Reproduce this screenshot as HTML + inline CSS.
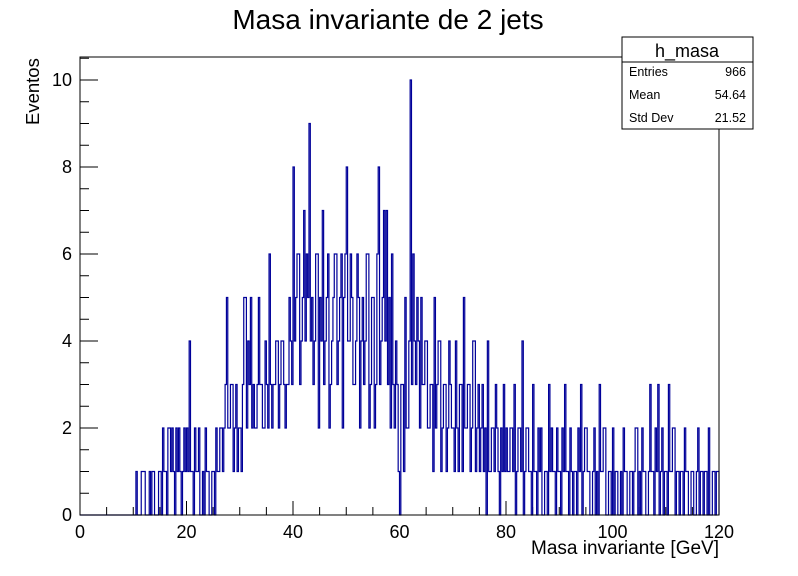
<!DOCTYPE html>
<html><head><meta charset="utf-8"><style>
body{margin:0;background:#fff}
svg text{font-family:"Liberation Sans",sans-serif}
</style></head><body>
<svg id="c" width="798" height="571" xmlns="http://www.w3.org/2000/svg">
<rect width="798" height="571" fill="#fff"/>
<text x="388" y="29" font-size="28" text-anchor="middle">Masa invariante de 2 jets</text>
<g id="axes"></g>
<path id="hist" fill="none" stroke="#000099" stroke-width="1.2"/>
<rect x="80" y="57" width="639" height="458" fill="none" stroke="#000"/>
<text x="719" y="554" font-size="19" text-anchor="end">Masa invariante [GeV]</text>
<text transform="translate(39,125) rotate(-90)" font-size="18.5">Eventos</text>
<g>
<rect x="622" y="37" width="131" height="92" fill="#fff" stroke="#000"/>
<line x1="622" y1="62" x2="753" y2="62" stroke="#000"/>
<text x="687" y="57" font-size="18" text-anchor="middle">h_masa</text>
<text x="629" y="76" font-size="12.5">Entries</text><text x="746" y="76" font-size="12.5" text-anchor="end">966</text>
<text x="629" y="99" font-size="12.5">Mean</text><text x="746" y="99" font-size="12.5" text-anchor="end">54.64</text>
<text x="629" y="122" font-size="12.5">Std Dev</text><text x="746" y="122" font-size="12.5" text-anchor="end">21.52</text>
</g>
</svg>
<script>
const binLow = 0, binHigh = 120;
const counts = [
0,0,0,0,0,0,0,0,0,0,0,0,0,0,0,0,0,0,0,0,
0,0,0,0,0,0,0,0,0,0,0,0,0,0,0,0,0,0,0,0,
0,0,1,0,0,0,1,1,1,0,0,0,1,0,1,1,0,0,0,1,
1,0,2,1,1,0,2,2,1,2,1,0,2,1,2,1,0,1,2,1,
2,1,4,1,1,0,2,1,1,2,0,0,1,0,2,1,1,0,0,1,
1,0,2,1,1,2,2,1,2,3,5,2,2,3,3,1,2,3,1,2,
2,1,3,5,5,2,4,3,5,2,3,2,2,3,5,3,3,2,2,4,
3,2,6,3,2,3,3,4,4,2,3,4,4,3,2,3,3,5,4,3,
8,4,5,6,6,3,4,5,7,4,6,5,9,4,5,3,4,6,6,2,
5,4,7,3,4,5,6,2,3,4,5,6,6,3,4,5,6,2,5,6,
8,4,4,6,5,3,3,4,6,5,2,4,5,3,4,6,6,2,3,5,
5,2,3,6,8,3,4,5,7,4,7,3,5,2,6,3,2,4,3,1,
0,3,3,1,5,2,2,4,10,3,6,4,3,5,4,2,5,3,3,4,
4,2,2,3,3,1,5,2,3,4,4,1,2,3,3,1,2,4,3,2,
2,1,4,2,1,3,3,1,5,2,2,3,3,1,2,4,4,1,2,3,
1,2,3,1,2,0,4,1,1,2,2,1,3,2,1,0,2,1,3,1,
2,1,1,2,2,1,3,0,1,2,2,1,4,0,1,2,2,1,1,0,
3,1,1,0,2,1,2,0,0,1,1,0,3,1,2,1,1,0,2,1,
1,0,2,1,3,1,1,0,2,1,0,1,1,0,2,1,3,0,1,2,
2,1,1,0,0,1,2,0,1,0,3,1,1,2,2,0,0,1,1,0,
2,0,1,1,0,0,1,0,2,1,1,0,0,1,1,0,1,2,2,0,
1,0,2,1,1,0,0,1,3,1,1,0,2,1,3,0,1,2,0,1,
1,0,3,1,1,2,2,0,1,1,0,1,1,0,2,1,1,0,0,1,
1,0,0,1,2,0,1,1,0,1,1,0,2,0,0,1,1,0,1,1];
const xTicks = [0,20,40,60,80,100,120];
const yTicks = [0,2,4,6,8,10];
const X0=80,X1=719,Y0=515,Y1=80;
const sx=v=>X0+(v-binLow)/(binHigh-binLow)*(X1-X0);
const sy=v=>Y0-v/10*(Y0-Y1);
const NS="http://www.w3.org/2000/svg";
const ax=document.getElementById('axes');
function ln(x1,y1,x2,y2){const l=document.createElementNS(NS,'line');l.setAttribute('x1',x1);l.setAttribute('y1',y1);l.setAttribute('x2',x2);l.setAttribute('y2',y2);l.setAttribute('stroke','#000');ax.appendChild(l);return l;}
function tx(x,y,s,a){const t=document.createElementNS(NS,'text');t.setAttribute('x',x);t.setAttribute('y',y);t.setAttribute('font-size','18');t.setAttribute('text-anchor',a);t.textContent=s;ax.appendChild(t);return t;}
for(let v=0;v<=120;v+=5){const x=sx(v);ln(x,Y0,x,Y0-(v%20===0?14:8));}
xTicks.forEach(v=>{const t=tx(sx(v),538,String(v),'middle');

});
for(let v=0;v<=10.5;v+=0.5){const y=sy(v);if(y<57)continue;ln(X0,y,X0+(v%2===0?18:9),y);}
yTicks.forEach(v=>{const t=tx(72,sy(v)+6,String(v),'end');

});
const w=(binHigh-binLow)/counts.length;
let d='M'+sx(binLow)+','+sy(0);
counts.forEach((c,i)=>{d+='L'+sx(binLow+i*w)+','+sy(c)+'L'+sx(binLow+(i+1)*w)+','+sy(c);});
d+='L'+sx(binHigh)+','+sy(0);
document.getElementById('hist').setAttribute('d',d);
</script>
</body></html>
